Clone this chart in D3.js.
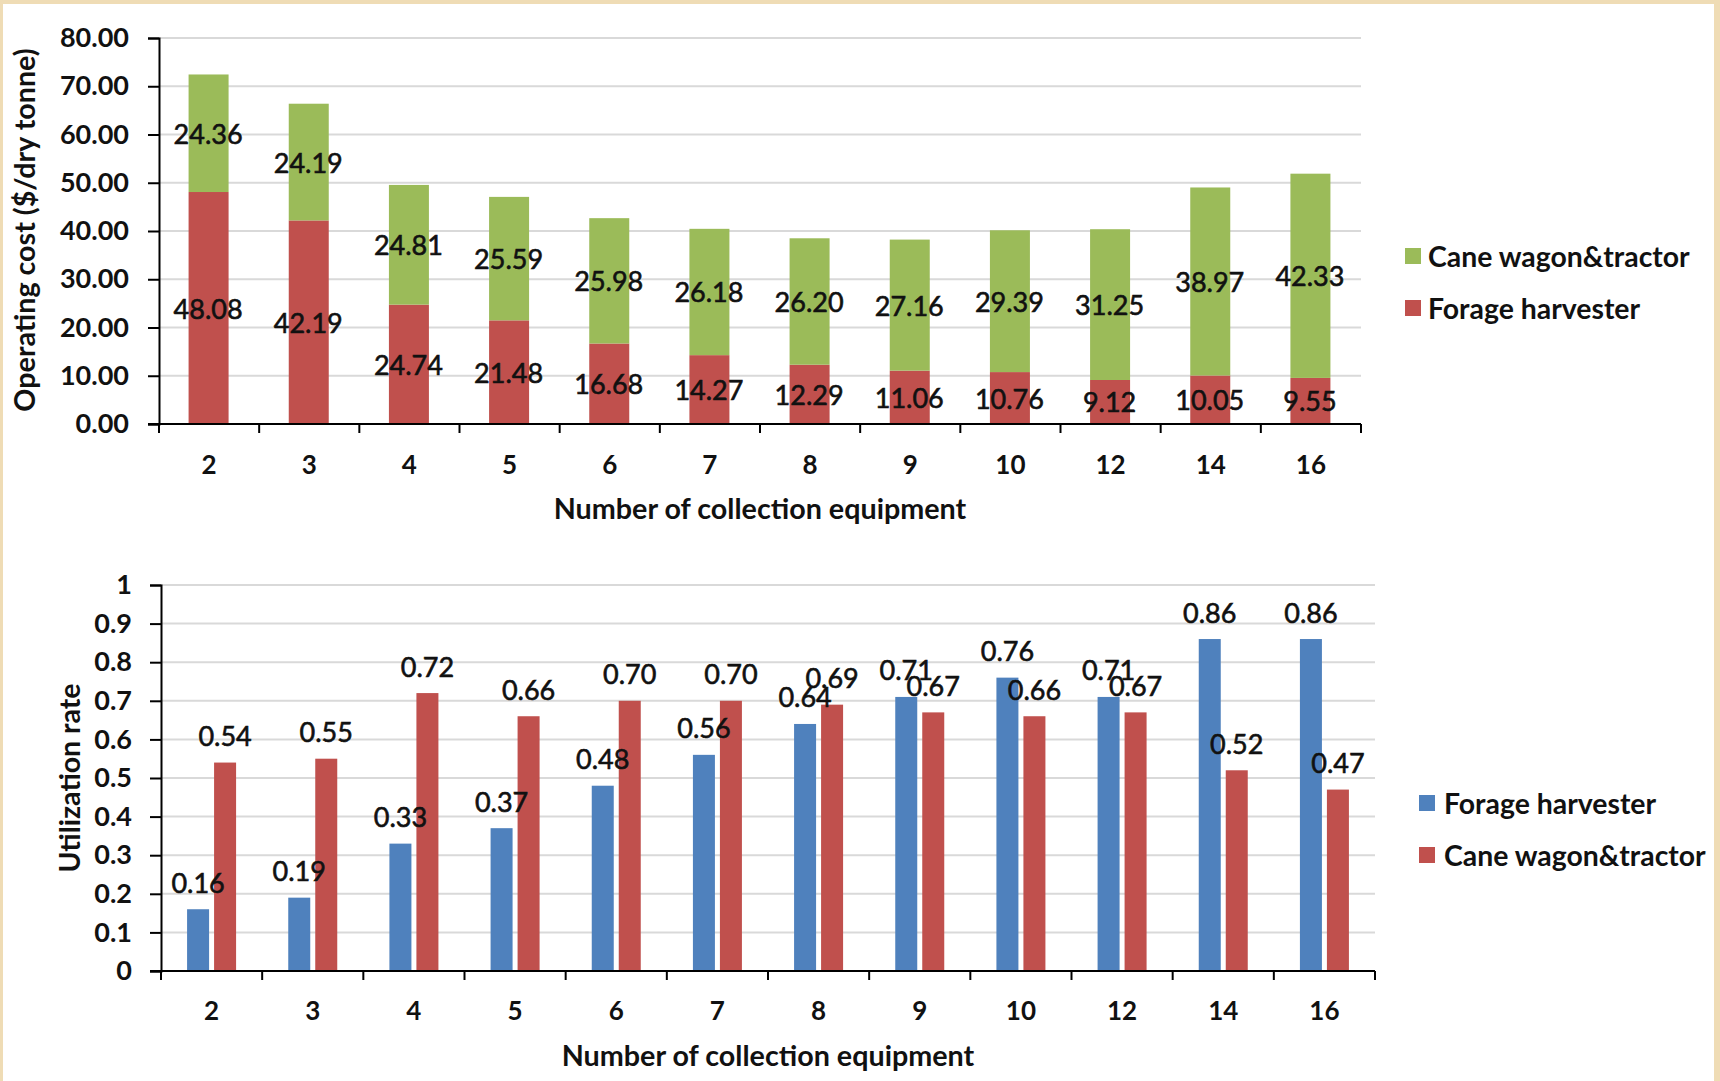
<!DOCTYPE html>
<html>
<head>
<meta charset="utf-8">
<script src="https://cdn.jsdelivr.net/npm/d3@7/dist/d3.min.js"></script>
<style>
  html, body { margin: 0; padding: 0; background: #efdcb5; }
  svg { display: block; }
  text { font-family: Lato, "Open Sans", sans-serif; fill: #111; }
  .dl { stroke: #111; stroke-width: 0.6px; }
</style>
</head>
<body>
<svg id="chart" width="1720" height="1081"></svg>
<script>
const categories = ["2", "3", "4", "5", "6", "7", "8", "9", "10", "12", "14", "16"];
const costForage = [48.08, 42.19, 24.74, 21.48, 16.68, 14.27, 12.29, 11.06, 10.76, 9.12, 10.05, 9.55];
const costCane = [24.36, 24.19, 24.81, 25.59, 25.98, 26.18, 26.20, 27.16, 29.39, 31.25, 38.97, 42.33];
const utilForage = [0.16, 0.19, 0.33, 0.37, 0.48, 0.56, 0.64, 0.71, 0.76, 0.71, 0.86, 0.86];
const utilCane = [0.54, 0.55, 0.72, 0.66, 0.70, 0.70, 0.69, 0.67, 0.66, 0.67, 0.52, 0.47];
const costTicks = [0, 10, 20, 30, 40, 50, 60, 70, 80];
const utilTicks = [0, 0.1, 0.2, 0.3, 0.4, 0.5, 0.6, 0.7, 0.8, 0.9, 1];

const C_GREEN = "#9bbb59", C_RED = "#c0504d", C_BLUE = "#4f81bd";

const svg = d3.select("#chart");
// white panel
svg.append("rect").attr("x", 3).attr("y", 4).attr("width", 1711).attr("height", 1077).attr("fill", "#fff");

function frame(g, y, ticks, x0, x1) {
  g.append("g").selectAll("line").data(ticks.filter(t => t > 0)).join("line")
    .attr("x1", x0).attr("x2", x1)
    .attr("y1", d => y(d)).attr("y2", d => y(d))
    .attr("stroke", "#d9d9d9").attr("stroke-width", 2);
}

function axes(g, x, y, ticks, fmt, x0, x1, labelRight, labelY) {
  const y0 = y(0);
  const ya = g.append("g").attr("transform", `translate(${x0},0)`)
    .call(d3.axisLeft(y).tickValues(ticks).tickFormat(fmt).tickSize(11).tickPadding(x0 - labelRight - 11));
  ya.select(".domain").attr("stroke", "#000").attr("stroke-width", 2);
  ya.selectAll(".tick line").attr("stroke", "#000").attr("stroke-width", 2);
  ya.selectAll(".tick text").attr("font-size", 27).attr("font-weight", 700).attr("font-family", "Lato").attr("fill", "#111");
  g.append("line").attr("x1", x0 - 11).attr("x2", x1).attr("y1", y0).attr("y2", y0)
    .attr("stroke", "#000").attr("stroke-width", 2);
  const bounds = d3.range(categories.length + 1).map(i => x0 + i * x.step());
  g.append("g").selectAll("line").data(bounds).join("line")
    .attr("x1", d => d).attr("x2", d => d).attr("y1", y0).attr("y2", y0 + 9)
    .attr("stroke", "#000").attr("stroke-width", 2);
  g.append("g").selectAll("text").data(categories).join("text")
    .attr("x", d => x(d) + x.bandwidth() / 2).attr("y", labelY)
    .attr("text-anchor", "middle").attr("dominant-baseline", "central")
    .attr("font-size", 26).attr("font-weight", 700).text(d => d);
}

// ---------- TOP CHART ----------
{
  const x0 = 159, x1 = 1361;
  const x = d3.scaleBand().domain(categories).range([x0, x1]).padding(0);
  const y = d3.scaleLinear().domain([0, 80]).range([424, 38]);
  const g = svg.append("g");
  frame(g, y, costTicks, x0, x1);
  const bw = 40;
  const data = categories.map((c, i) => ({ c, f: costForage[i], w: costCane[i] }));
  g.append("g").selectAll("rect").data(data).join("rect")
    .attr("x", d => x(d.c) + x.bandwidth() / 2 - bw / 2 - 0.5).attr("width", bw)
    .attr("y", d => y(d.f)).attr("height", d => y(0) - y(d.f)).attr("fill", C_RED);
  g.append("g").selectAll("rect").data(data).join("rect")
    .attr("x", d => x(d.c) + x.bandwidth() / 2 - bw / 2 - 0.5).attr("width", bw)
    .attr("y", d => y(d.f + d.w)).attr("height", d => y(d.f) - y(d.f + d.w)).attr("fill", C_GREEN);
  axes(g, x, y, costTicks, d3.format(".2f"), x0, x1, 129, 464);
  g.append("g").selectAll("text").data(data).join("text").attr("class", "dl")
    .attr("x", d => x(d.c) + x.bandwidth() / 2 - 1).attr("y", d => y(d.f / 2))
    .attr("text-anchor", "middle").attr("dominant-baseline", "central")
    .attr("font-size", 27).attr("font-weight", 400).text(d => d.f.toFixed(2));
  g.append("g").selectAll("text").data(data).join("text").attr("class", "dl")
    .attr("x", d => x(d.c) + x.bandwidth() / 2 - 1).attr("y", d => y(d.f + d.w / 2))
    .attr("text-anchor", "middle").attr("dominant-baseline", "central")
    .attr("font-size", 27).attr("font-weight", 400).text(d => d.w.toFixed(2));
  g.append("text").attr("x", 760).attr("y", 508).attr("text-anchor", "middle")
    .attr("dominant-baseline", "central").attr("font-size", 28.7).attr("font-weight", 700)
    .text("Number of collection equipment");
  g.append("text").attr("transform", "translate(24,230) rotate(-90)").attr("text-anchor", "middle")
    .attr("dominant-baseline", "central").attr("font-size", 28.7).attr("font-weight", 700)
    .text("Operating cost ($/dry tonne)");
  const leg = [{ n: "Cane wagon&tractor", c: C_GREEN, y: 256 }, { n: "Forage harvester", c: C_RED, y: 308 }];
  const lg = g.append("g").selectAll("g").data(leg).join("g");
  lg.append("rect").attr("x", 1405).attr("y", d => d.y - 8).attr("width", 16).attr("height", 16).attr("fill", d => d.c);
  lg.append("text").attr("x", 1428).attr("y", d => d.y).attr("dominant-baseline", "central")
    .attr("font-size", 28.4).attr("font-weight", 700).text(d => d.n);
}

// ---------- BOTTOM CHART ----------
{
  const x0 = 161, x1 = 1375;
  const x = d3.scaleBand().domain(categories).range([x0, x1]).padding(0);
  const y = d3.scaleLinear().domain([0, 1]).range([971, 585]);
  const g = svg.append("g");
  frame(g, y, utilTicks, x0, x1);
  const bw = 22, gap = 5;
  const data = categories.map((c, i) => ({ c, f: utilForage[i], w: utilCane[i] }));
  const cx = d => x(d.c) + x.bandwidth() / 2;
  g.append("g").selectAll("rect").data(data).join("rect")
    .attr("x", d => cx(d) - gap / 2 - bw).attr("width", bw)
    .attr("y", d => y(d.f)).attr("height", d => y(0) - y(d.f)).attr("fill", C_BLUE);
  g.append("g").selectAll("rect").data(data).join("rect")
    .attr("x", d => cx(d) + gap / 2).attr("width", bw)
    .attr("y", d => y(d.w)).attr("height", d => y(0) - y(d.w)).attr("fill", C_RED);
  axes(g, x, y, utilTicks, d => d3.format("")(+d.toFixed(1)), x0, x1, 132, 1010);
  g.append("g").selectAll("text").data(data).join("text").attr("class", "dl")
    .attr("x", d => cx(d) - gap / 2 - bw / 2).attr("y", d => y(d.f) - 27)
    .attr("text-anchor", "middle").attr("dominant-baseline", "central")
    .attr("font-size", 27).attr("font-weight", 400).text(d => d.f.toFixed(2));
  g.append("g").selectAll("text").data(data).join("text").attr("class", "dl")
    .attr("x", d => cx(d) + gap / 2 + bw / 2).attr("y", d => y(d.w) - 27)
    .attr("text-anchor", "middle").attr("dominant-baseline", "central")
    .attr("font-size", 27).attr("font-weight", 400).text(d => d.w.toFixed(2));
  g.append("text").attr("x", 768).attr("y", 1055).attr("text-anchor", "middle")
    .attr("dominant-baseline", "central").attr("font-size", 28.7).attr("font-weight", 700)
    .text("Number of collection equipment");
  g.append("text").attr("transform", "translate(69,778) rotate(-90)").attr("text-anchor", "middle")
    .attr("dominant-baseline", "central").attr("font-size", 28.5).attr("font-weight", 700)
    .text("Utilization rate");
  const leg = [{ n: "Forage harvester", c: C_BLUE, y: 803 }, { n: "Cane wagon&tractor", c: C_RED, y: 855 }];
  const lg = g.append("g").selectAll("g").data(leg).join("g");
  lg.append("rect").attr("x", 1419).attr("y", d => d.y - 8).attr("width", 16).attr("height", 16).attr("fill", d => d.c);
  lg.append("text").attr("x", 1444).attr("y", d => d.y).attr("dominant-baseline", "central")
    .attr("font-size", 28.4).attr("font-weight", 700).text(d => d.n);
}
</script>
</body>
</html>
